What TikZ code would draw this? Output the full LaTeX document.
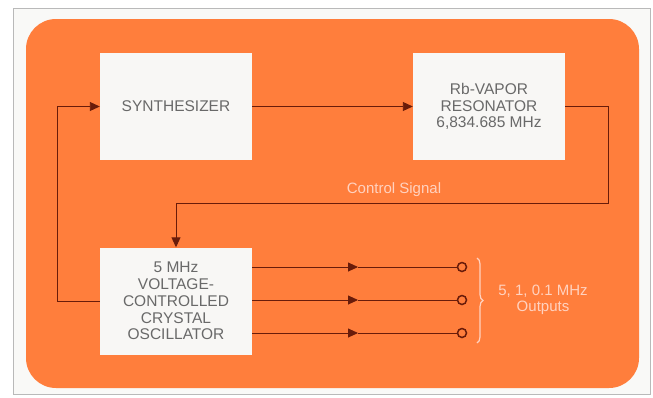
\documentclass[tikz,border=0pt]{standalone}
\usepackage{fontspec}
\setmainfont{Liberation Sans}
\usetikzlibrary{arrows.meta,decorations.pathreplacing}
\definecolor{bgorange}{RGB}{255,126,60}
\definecolor{boxfill}{RGB}{248,247,245}
\definecolor{wire}{RGB}{105,28,10}
\definecolor{txtgray}{RGB}{105,105,105}
\definecolor{pinktxt}{RGB}{255,210,192}
\definecolor{framegray}{RGB}{185,185,185}
\tikzset{
  blockbox/.style={fill=boxfill, draw=none, minimum width=152pt, minimum height=107pt,
    align=center, text=txtgray, font=\fontsize{15.5}{16.8}\selectfont, inner sep=0pt},
  wireline/.style={draw=wire, line width=0.9pt},
  arr/.style={wireline, -{Triangle[length=10pt,width=9pt]}},
  term/.style={circle, draw=wire, line width=1.5pt, fill=bgorange, minimum size=9pt, inner sep=0pt},
  lighttxt/.style={text=pinktxt, font=\fontsize{15}{16}\selectfont, align=center}
}
\begin{document}
\begin{tikzpicture}[x=1pt,y=-1pt]
\useasboundingbox (0,0) rectangle (653,397);
\fill[white] (0,0) rectangle (653,397);
\draw[framegray, fill={rgb,255:red,249;green,249;blue,247}, line width=0.8pt] (13,8) rectangle (650,394);
\fill[bgorange, rounded corners=30pt] (26,19) rectangle (639,388);

\node[blockbox] (synth) at (176,106.5) {SYNTHESIZER};
\node[blockbox] (rb) at (489,106.5) {Rb-VAPOR\\RESONATOR\\6,834.685 MHz};
\node[blockbox] (vcxo) at (176,301) {5 MHz\\VOLTAGE-\\CONTROLLED\\CRYSTAL\\OSCILLATOR};

\coordinate (cr) at (608,203);
\coordinate (cl) at (57,106.5);
\draw[arr] (synth.east) -- (rb.west);
\draw[arr] (rb.east) -| (cr) -| (vcxo.north);
\draw[arr] (vcxo.west) -| (cl) -- (synth.west);

\node[lighttxt] (ctl) at (394,190) {Control Signal};

\node[term] (p1) at (462,267) {};
\node[term] (p2) at (462,300) {};
\node[term] (p3) at (462,333) {};
\coordinate (m1) at (358,267);
\coordinate (m2) at (358,300);
\coordinate (m3) at (358,333);
\draw[arr] (vcxo.east |- p1) -- (m1);
\draw[wireline] (m1) -- (p1);
\draw[arr] (vcxo.east |- p2) -- (m2);
\draw[wireline] (m2) -- (p2);
\draw[arr] (vcxo.east |- p3) -- (m3);
\draw[wireline] (m3) -- (p3);

\coordinate (bt) at (477,258);
\coordinate (bb) at (477,343);
\draw[pinktxt, line width=1.2pt, decorate, decoration={brace, amplitude=6pt}] (bt) -- (bb);
\node[lighttxt] (outs) at (543,300) {5, 1, 0.1 MHz\\Outputs};
\end{tikzpicture}
\end{document}
